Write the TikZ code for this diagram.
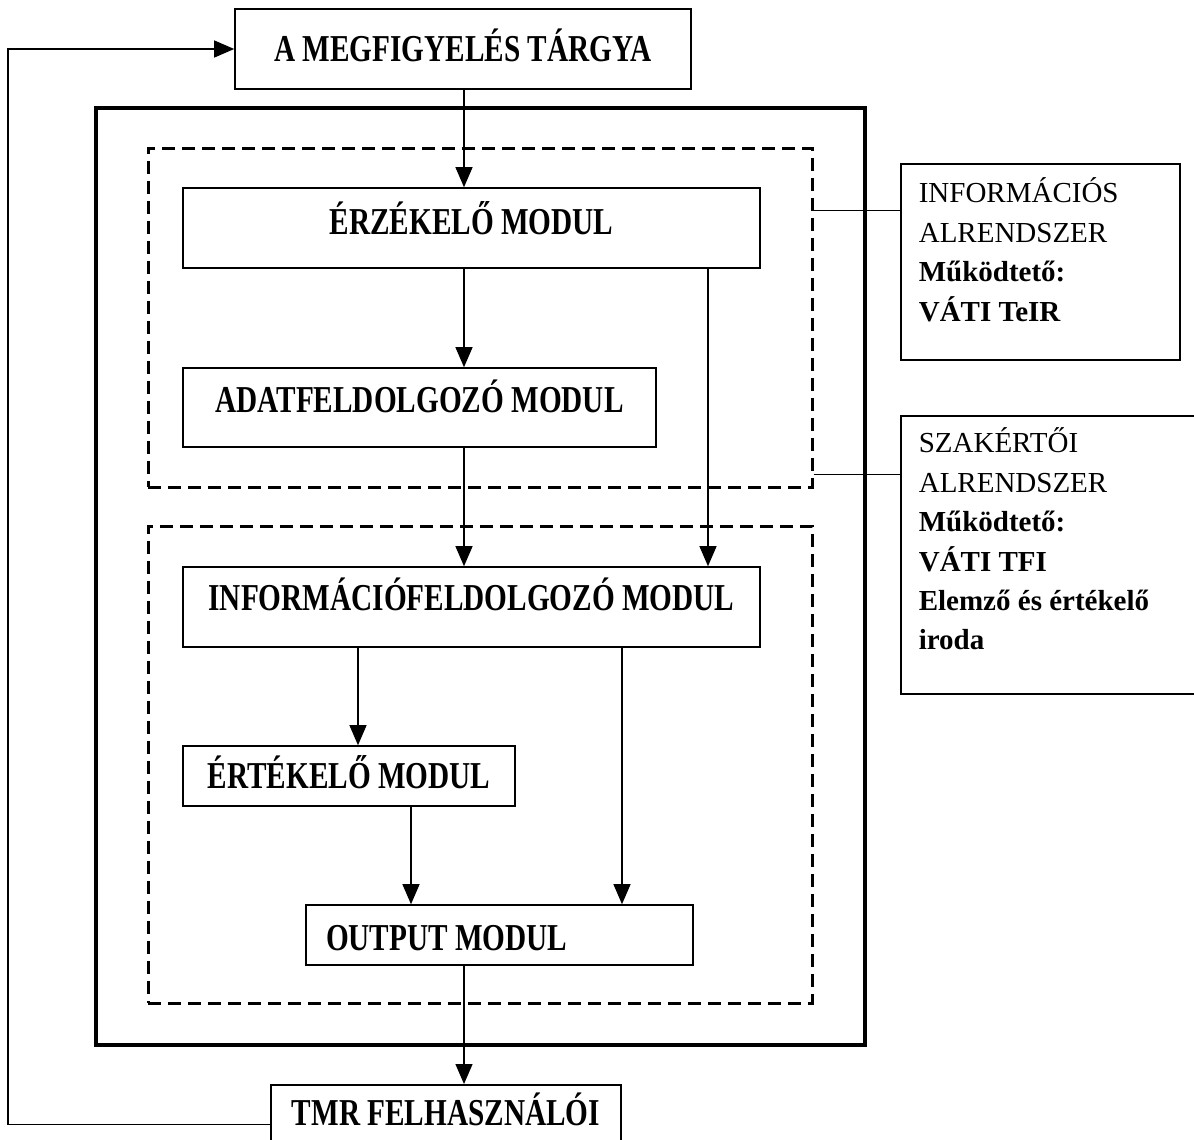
\documentclass[tikz,border=0pt]{standalone}
\usepackage{fontspec}
\setmainfont{Liberation Serif}
\newfontfamily\szukfont[FakeStretch=0.77]{Liberation Serif}
\usetikzlibrary{arrows.meta, positioning}

\begin{document}
\begin{tikzpicture}[
	x=0.5pt, y=-0.5pt,
	>={Triangle[length=10pt, width=8.5pt]},
	modul/.style={draw, line width=0.8pt, inner sep=0pt, font=\szukfont\bfseries\fontsize{19}{22}\selectfont, text height=12.6pt, text depth=0pt},
	alrendszer/.style={draw, line width=1.5pt, dash pattern=on 6.5pt off 3.5pt, inner sep=0pt},
	kulso/.style={draw, line width=1.8pt, inner sep=0pt},
	leiras/.style={draw, line width=0.8pt, anchor=north west, align=flush left, inner xsep=9pt, inner ysep=0pt, font=\fontsize{14.5}{19.7}\selectfont},
	nyil/.style={->, line width=0.6pt},
	vonal/.style={line width=0.6pt}
	]
	\useasboundingbox (0,0) rectangle (1194,1140);
	
	% oszlopok a nyilakhoz
	\coordinate (c1) at (464,0);
	\coordinate (c2) at (708,0);
	\coordinate (c3) at (358,0);
	\coordinate (c4) at (622,0);
	\coordinate (c5) at (411,0);
	\coordinate (bal) at (8,0);
	
	% A megfigyeles targya
	\node[modul, minimum width=228pt, minimum height=40pt] (targy) at (463,49) {A MEGFIGYELÉS TÁRGYA};
	
	% Keretek
	\node[kulso, minimum width=384.5pt, minimum height=468.5pt] (rendszer) at (480.5,576.5) {};
	\node[alrendszer, minimum width=332pt, minimum height=169.5pt] (infoalr) at (480,317.5) {};
	\node[alrendszer, minimum width=332pt, minimum height=238.5pt] (szakalr) at (480,764.5) {};
	
	% Modulok
	\node[modul, minimum width=288.5pt, minimum height=40pt, text depth=6pt] (erzekelo) at (471.5,228) {ÉRZÉKELŐ MODUL};
	\node[modul, minimum width=236.5pt, minimum height=39.5pt, text depth=7.5pt] (adatfeld) at (419.5,407.5) {ADATFELDOLGOZÓ MODUL};
	\node[modul, minimum width=288.5pt, minimum height=40pt, text depth=9pt] (infofeld) at (471.5,607) {INFORMÁCIÓFELDOLGOZÓ MODUL};
	\node[modul, minimum width=166pt, minimum height=30pt] (ertekelo) at (349,776) {ÉRTÉKELŐ MODUL};
	\node[modul, minimum height=30pt, text height=15.6pt, text width=173.5pt, inner xsep=10pt, align=flush left] (output) at (499.5,935) {OUTPUT MODUL};
	
	% Felhasznalok
	\node[modul, anchor=north, minimum width=175pt, inner ysep=7.5pt, text height=13pt, text depth=12pt] (tmr) at (446,1084) {TMR FELHASZNÁLÓI};
	
	% Alrendszerek leirasa
	\node[leiras, text width=121.5pt, text height=19.5pt, text depth=78.5pt] (infobox) at (900,163)
		{INFORMÁCIÓS\\ALRENDSZER\\\textbf{Működtető:}\\\textbf{VÁTI TeIR}};
	\node[leiras, text width=160pt, text height=18.5pt, text depth=120.5pt] (szakbox) at (900,415)
		{SZAKÉRTŐI\\ALRENDSZER\\\textbf{Működtető:}\\\textbf{VÁTI TFI}\\\textbf{Elemző és értékelő}\\\textbf{iroda}};
	
	% Nyilak
	\draw[nyil] (targy.south -| c1) -- (erzekelo.north -| c1);
	\draw[nyil] (erzekelo.south -| c1) -- (adatfeld.north -| c1);
	\draw[nyil] (erzekelo.south -| c2) -- (infofeld.north -| c2);
	\draw[nyil] (adatfeld.south -| c1) -- (infofeld.north -| c1);
	\draw[nyil] (infofeld.south -| c3) -- (ertekelo.north -| c3);
	\draw[nyil] (infofeld.south -| c4) -- (output.north -| c4);
	\draw[nyil] (ertekelo.south -| c5) -- (output.north -| c5);
	\draw[nyil] (output.south -| c1) -- (tmr.north -| c1);
	
	% Visszacsatolas
	\draw[nyil] (tmr.west) -- (tmr.west -| bal) |- (targy.west);
	
	% Alrendszerek kapcsolata
	\draw[vonal] ([yshift=-32pt]infoalr.north east) coordinate (k1) -- (k1 -| infobox.west);
	\draw[vonal] ([yshift=7pt]infoalr.south east) coordinate (k2) -- (k2 -| szakbox.west);
	
\end{tikzpicture}
\end{document}
